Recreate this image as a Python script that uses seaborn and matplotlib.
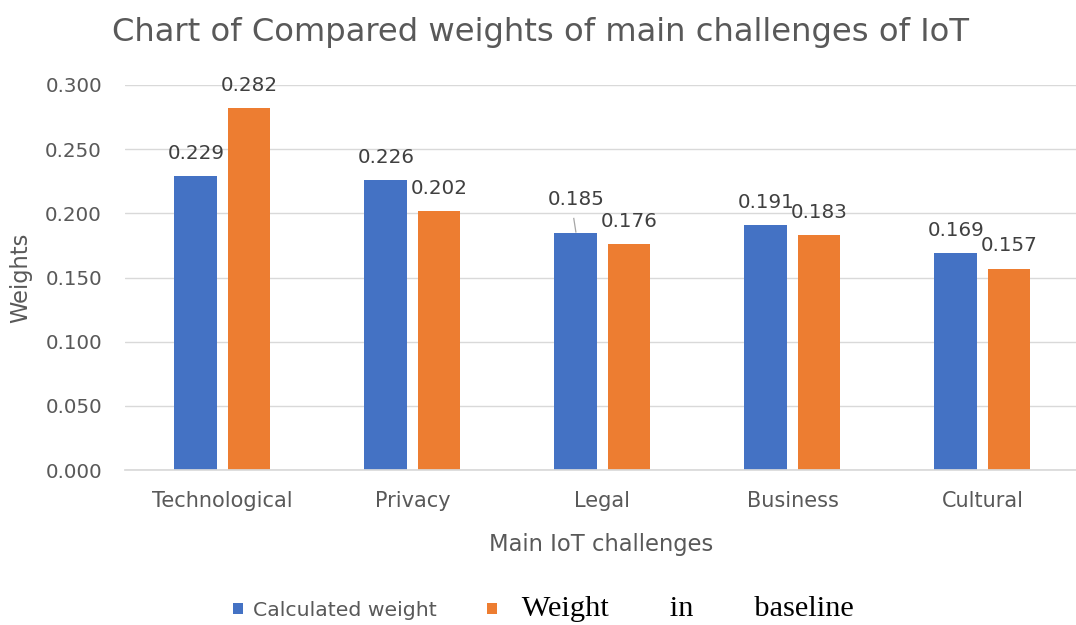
import matplotlib
matplotlib.use("Agg")
import matplotlib.pyplot as plt
from matplotlib.patches import Patch
import pandas as pd
import seaborn as sns

categories = ["Technological", "Privacy", "Legal", "Business", "Cultural"]
calculated_weight = [0.229, 0.226, 0.185, 0.191, 0.169]
baseline_weight = [0.282, 0.202, 0.176, 0.183, 0.157]
series_names = ["Calculated weight", "Weight in baseline"]
y_ticks = [0.000, 0.050, 0.100, 0.150, 0.200, 0.250, 0.300]

BLUE = "#4472C4"
ORANGE = "#ED7D31"
GREY_TEXT = "#595959"
LABEL_TEXT = "#404040"
GRID = "#D9D9D9"

df = pd.DataFrame({
    "challenge": categories * 2,
    "weight": calculated_weight + baseline_weight,
    "series": [series_names[0]] * len(categories) + [series_names[1]] * len(categories),
})

sns.set_theme(style="white")
plt.rcParams["font.family"] = ["DejaVu Sans"]

W, H = 1076, 625
X_MIN, X_MAX = -0.513, 4.5
fig = plt.figure(figsize=(W / 100, H / 100), dpi=100)
ax = fig.add_axes([125 / W, 155 / H, 190 * (X_MAX - X_MIN) / W, 385 / H])

sns.barplot(data=df, x="challenge", y="weight", hue="series",
            palette=[BLUE, ORANGE], width=0.558, gap=0.19, saturation=1,
            linewidth=0, legend=False, ax=ax)

ax.set_xlim(X_MIN, X_MAX)
ax.set_ylim(0, 0.3)
ax.set_yticks(y_ticks)
ax.set_yticklabels([f"{t:.3f}" for t in y_ticks])
ax.yaxis.grid(True, color=GRID, linewidth=1)
ax.set_axisbelow(True)
for side in ["top", "right", "left"]:
    ax.spines[side].set_visible(False)
ax.spines["bottom"].set_color(GRID)
ax.tick_params(axis="both", length=0, colors=GREY_TEXT, labelsize=14.3)
ax.tick_params(axis="x", labelsize=15, pad=15)
ax.tick_params(axis="y", pad=16.5)

ax.set_xlabel("Main IoT challenges", fontsize=16.3, color=GREY_TEXT, labelpad=16)
ax.set_ylabel("Weights", fontsize=16.3, color=GREY_TEXT, labelpad=9)

# value labels above each bar
PAD = 9.5
bar_texts = []
for container in ax.containers:
    bar_texts.append(ax.bar_label(container, fmt="%.3f", padding=PAD,
                                  fontsize=14.3, color=LABEL_TEXT))

# the Legal "calculated" label sits a little higher, tied to its bar by a leader line
legal = categories.index("Legal")
lbl = bar_texts[0][legal]
lbl.xyann = (0, PAD + 7.5)
bar = ax.containers[0][legal]
bx = bar.get_x() + bar.get_width() / 2
top = calculated_weight[legal]
ax.plot([bx - 0.012, bx], [top + 0.0115, top], color="#A6A6A6", lw=0.9,
        solid_capstyle="butt")

fig.text(540 / W, 1 - 41 / H, "Chart of Compared weights of main challenges of IoT",
         ha="center", va="baseline", fontsize=23.2, color=GREY_TEXT)

handles = [Patch(facecolor=BLUE, edgecolor="none"),
           Patch(facecolor=ORANGE, edgecolor="none")]
gap_words = " " * 8
leg = fig.legend(handles,
                 [series_names[0], "  " + gap_words.join(series_names[1].split())],
                 loc="center", bbox_to_anchor=(543 / W, 1 - 609 / H), ncol=2,
                 frameon=False, fontsize=14.7, handlelength=0.49,
                 handleheight=0.49, handletextpad=0.49, columnspacing=2.45,
                 borderpad=0, borderaxespad=0)
leg.get_texts()[0].set_color(GREY_TEXT)
serif_text = leg.get_texts()[1]
serif_text.set_fontfamily("Liberation Serif")
serif_text.set_fontsize(21.9)
serif_text.set_color("black")

fig.savefig("out.png", dpi=100, facecolor="white")
